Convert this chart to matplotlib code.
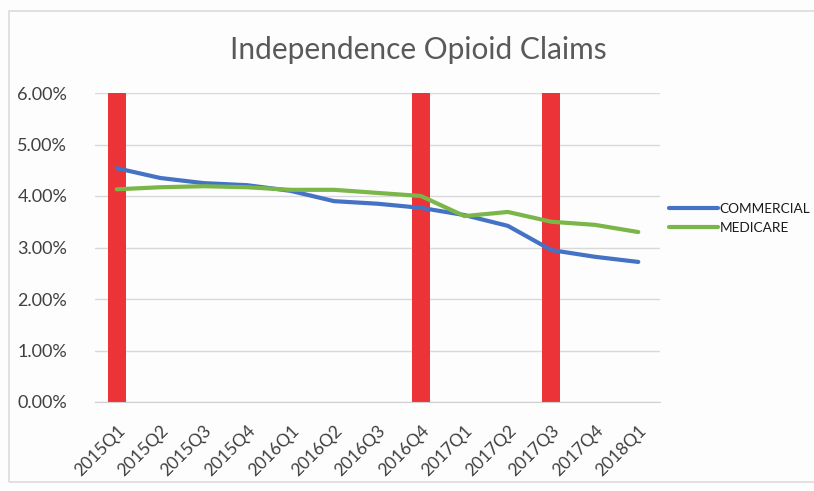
import matplotlib.pyplot as plt
from matplotlib.patches import Rectangle

quarters = ["2015Q1", "2015Q2", "2015Q3", "2015Q4", "2016Q1", "2016Q2", "2016Q3",
            "2016Q4", "2017Q1", "2017Q2", "2017Q3", "2017Q4", "2018Q1"]
commercial = [4.54, 4.35, 4.25, 4.21, 4.10, 3.90, 3.85, 3.77, 3.63, 3.42, 2.95, 2.82, 2.72]
medicare = [4.13, 4.17, 4.19, 4.17, 4.12, 4.12, 4.06, 4.00, 3.61, 3.69, 3.50, 3.44, 3.30]
# red marker bars (percent), zero where no bar
markers = [6.0, 0, 0, 0, 0, 0, 0, 6.0, 0, 0, 6.0, 0, 0]

plt.rcParams['font.family'] = ['Lato', 'DejaVu Sans']

fig = plt.figure(figsize=(8.14, 4.91), dpi=100)
fig.patch.set_facecolor('#fdfdfd')
# scanned chart frame
fig.patches.append(Rectangle((9 / 814, 9 / 491), 1.0, 1 - 20 / 491, transform=fig.transFigure,
                             fill=False, edgecolor='#dcdcdc', lw=1.2))

ax = fig.add_axes([95 / 814, 1 - 402 / 491, 565 / 814, 309 / 491])
ax.set_facecolor('none')
x = list(range(len(quarters)))

ax.bar(x, markers, width=0.42, color='#ec3338', zorder=2)
ax.plot(x, commercial, color='#4472c4', lw=3, label='COMMERCIAL', zorder=3,
        solid_joinstyle='round', solid_capstyle='round')
ax.plot(x, medicare, color='#7ab648', lw=3, label='MEDICARE', zorder=3,
        solid_joinstyle='round', solid_capstyle='round')

ax.set_xlim(-0.5, len(quarters) - 0.5)
ax.set_ylim(0, 6)
ax.set_yticks([0, 1, 2, 3, 4, 5, 6])
ax.set_yticklabels([f"{v:.2f}%" for v in range(7)], fontsize=13, color='#404040')
ax.set_xticks(x)
ax.set_xticklabels(quarters, rotation=45, ha='right', rotation_mode='anchor',
                   fontsize=12.5, color='#404040')
ax.grid(axis='y', color='#d9d9d9', lw=1, zorder=0)
ax.tick_params(axis='y', length=0, pad=20)
ax.tick_params(axis='x', length=0, pad=15)
for s in ['top', 'right', 'left']:
    ax.spines[s].set_visible(False)
ax.spines['bottom'].set_color('#d0d0d0')

fig.text(418 / 814, 1 - 50 / 491, "Independence Opioid Claims", ha='center', va='center',
         fontsize=21.5, color='#595959')

ax.legend(loc='center left', bbox_to_anchor=(0.995, 0.595), frameon=False,
          fontsize=9.8, handlelength=3.6, handletextpad=0.1, labelspacing=0.5,
          labelcolor='#1a1a1a')

fig.savefig("out.png", dpi=100)
